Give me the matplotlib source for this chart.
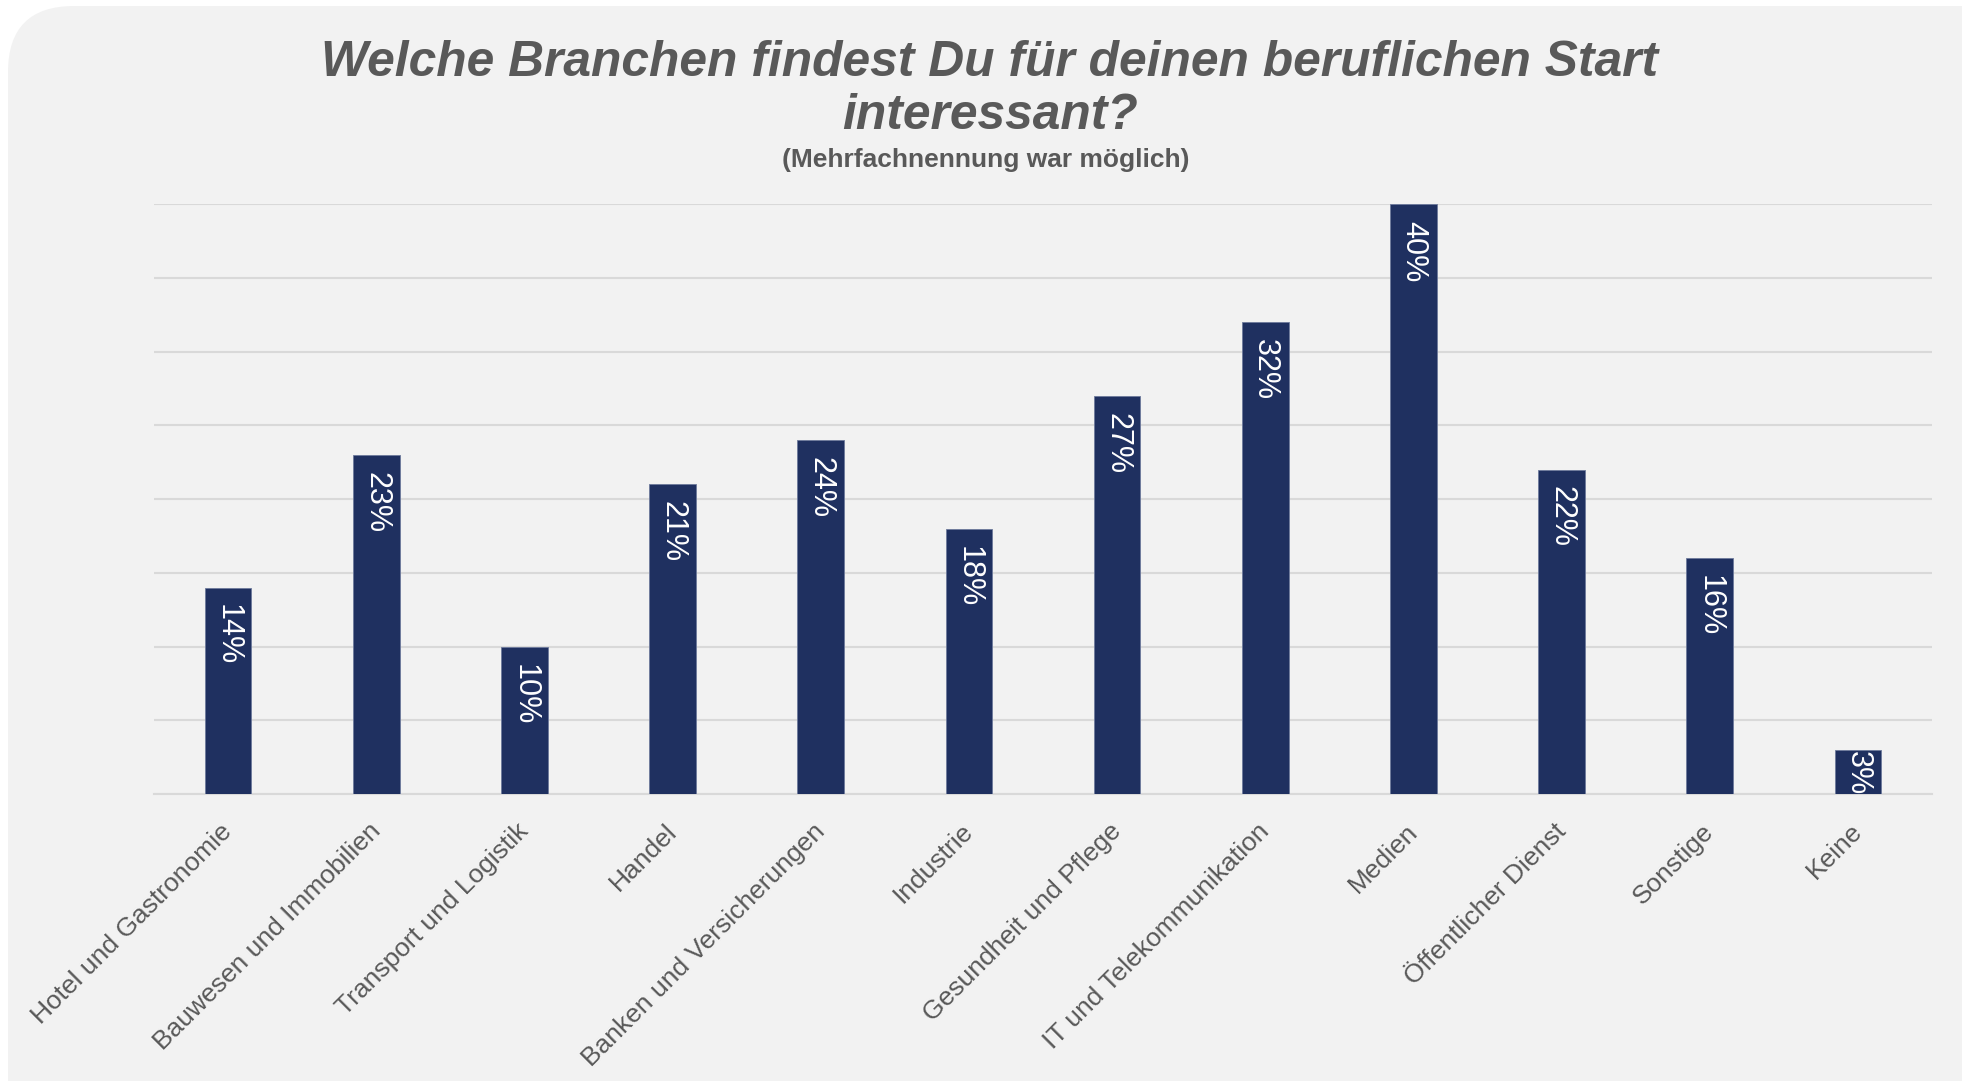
import matplotlib.pyplot as plt
import matplotlib.transforms as mtransforms
import numpy as np
from matplotlib.patches import FancyBboxPatch, Rectangle

# Data
categories = [
    "Hotel und Gastronomie", "Bauwesen und Immobilien", "Transport und Logistik",
    "Handel", "Banken und Versicherungen", "Industrie", "Gesundheit und Pflege",
    "IT und Telekommunikation", "Medien", "Öffentlicher Dienst", "Sonstige", "Keine",
]
shares = [14, 23, 10, 21, 24, 18, 27, 32, 40, 22, 16, 3]

W, H = 1966, 1081
BAR_COLOR = "#1F3060"
TEXT_GREY = "#595959"
GRID_GREY = "#D9D9D9"

plt.rcParams["font.family"] = ["Liberation Sans", "DejaVu Sans"]

fig = plt.figure(figsize=(W / 100, H / 100), dpi=100)
fig.patch.set_facecolor("white")

# grey card with rounded top-left corner (pixel coords)
card = FancyBboxPatch((8, -300), 1954 + 300, H - 6 + 300,
                      boxstyle="round,pad=0,rounding_size=66",
                      transform=None, facecolor="#F2F2F2", edgecolor="none", zorder=-5)
fig.patches.append(card)
fig.patches.append(Rectangle((300, 0), 1962 - 300, H - 6, transform=None,
                             facecolor="#F2F2F2", edgecolor="none", zorder=-5))
fig.patches.append(Rectangle((1962, 0), 10, H, transform=None,
                             facecolor="white", edgecolor="none", zorder=-5))

# axes placement (pixels)
left, right, base, top = 154, 1932, 794, 204
ax = fig.add_axes([left / W, (H - base) / H, (right - left) / W, (base - top) / H])
ax.set_facecolor("none")
ax.set_zorder(2)

x = np.arange(len(categories))
ax.bar(x, shares, width=0.315, color=BAR_COLOR, edgecolor="#6d7a9c", linewidth=0.6, zorder=3)

ax.set_ylim(0, 40)
ax.set_xlim(-0.5, len(categories) - 0.5)
ax.set_yticks(np.arange(0, 41, 5))
ax.set_yticklabels([])
ax.tick_params(axis="y", length=0)
ax.grid(axis="y", color=GRID_GREY, linewidth=1.5, zorder=0)
ax.set_axisbelow(True)
for s in ["left", "right", "top"]:
    ax.spines[s].set_visible(False)
ax.spines["bottom"].set_color(GRID_GREY)
ax.spines["bottom"].set_linewidth(1.5)

ax.set_xticks(x)
ax.set_xticklabels(categories, rotation=45, ha="right", va="top",
                   rotation_mode="anchor", fontsize=19, color=TEXT_GREY)
ax.tick_params(axis="x", length=0, pad=18)
shift = mtransforms.ScaledTranslation(-8 / 100, 0, fig.dpi_scale_trans)
for lbl in ax.get_xticklabels():
    lbl.set_transform(lbl.get_transform() + shift)

# value labels inside bar ends
px_per_unit = (base - top) / 40
for xi, v in zip(x, shares):
    bar_px = v * px_per_unit
    off = 17 if bar_px > 80 else 1
    ax.annotate(f"{v}%", (xi, v), xytext=(0, -off), textcoords="offset pixels",
                rotation=-90, ha="center", va="top", color="white", fontsize=22,
                annotation_clip=False, clip_on=True, zorder=4)

fig.text(990 / W, 1 - 76 / H, "Welche Branchen findest Du für deinen beruflichen Start",
         ha="center", va="baseline", fontsize=35.8, fontweight="bold", fontstyle="italic",
         color=TEXT_GREY)
fig.text(990 / W, 1 - 129 / H, "interessant?",
         ha="center", va="baseline", fontsize=35.8, fontweight="bold", fontstyle="italic",
         color=TEXT_GREY)
fig.text(986 / W, 1 - 167 / H, "(Mehrfachnennung war möglich)",
         ha="center", va="baseline", fontsize=19, fontweight="bold", color=TEXT_GREY)

fig.savefig("out.png", dpi=100, facecolor=fig.get_facecolor())
